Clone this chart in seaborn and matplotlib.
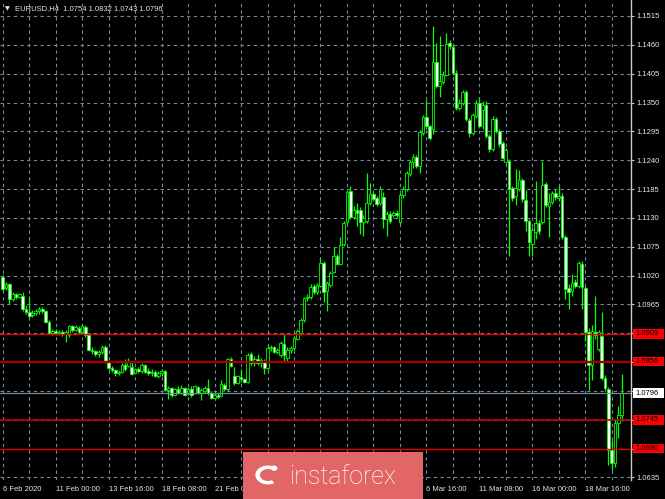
import numpy as np
import pandas as pd
import matplotlib
matplotlib.use("Agg")
import matplotlib.pyplot as plt
import matplotlib.transforms as mtransforms
from matplotlib.patches import Rectangle, Wedge, Circle
import seaborn as sns

# ---------------- data (EURUSD H4) ----------------
opens = [1.1018, 1.0996, 1.1003, 1.0976, 1.0984, 1.0980, 1.0982, 1.0957, 1.0950, 1.0944,
         1.0948, 1.0952, 1.0956, 1.0952, 1.0932, 1.0911, 1.0915, 1.0910, 1.0913, 1.0909,
         1.0906, 1.0923, 1.0917, 1.0920, 1.0912, 1.0922, 1.0906, 1.0879, 1.0876, 1.0871,
         1.0875, 1.0884, 1.0856, 1.0843, 1.0840, 1.0834, 1.0837, 1.0850, 1.0847, 1.0846,
         1.0834, 1.0841, 1.0838, 1.0849, 1.0838, 1.0834, 1.0837, 1.0829, 1.0835, 1.0838,
         1.0801, 1.0806, 1.0792, 1.0803, 1.0796, 1.0805, 1.0794, 1.0804, 1.0796, 1.0807,
         1.0797, 1.0800, 1.0806, 1.0797, 1.0786, 1.0793, 1.0791, 1.0812, 1.0803, 1.0860,
         1.0829, 1.0815, 1.0826, 1.0822, 1.0818, 1.0870, 1.0853, 1.0861, 1.0853, 1.0858,
         1.0843, 1.0881, 1.0883, 1.0874, 1.0868, 1.0890, 1.0862, 1.0878, 1.0881, 1.0900,
         1.0910, 1.0935, 1.0977, 1.0979, 1.1000, 1.0988, 1.1001, 1.1044, 1.0990, 1.1002,
         1.1027, 1.1058, 1.1043, 1.1080, 1.1122, 1.1182, 1.1132, 1.1146, 1.1145, 1.1122,
         1.1125, 1.1159, 1.1175, 1.1167, 1.1158, 1.1170, 1.1128, 1.1137, 1.1135, 1.1140,
         1.1122, 1.1173, 1.1185, 1.1214, 1.1236, 1.1246, 1.1229, 1.1292, 1.1322, 1.1305,
         1.1300, 1.1428, 1.1382, 1.1390, 1.1403, 1.1463, 1.1456, 1.1407, 1.1340, 1.1350,
         1.1370, 1.1317, 1.1292, 1.1325, 1.1350, 1.1336, 1.1346, 1.1286, 1.1262, 1.1318,
         1.1296, 1.1272, 1.1237, 1.1238, 1.1187, 1.1172, 1.1185, 1.1203, 1.1165, 1.1124,
         1.1081, 1.1104, 1.1120, 1.1122, 1.1194, 1.1153, 1.1160, 1.1177, 1.1168, 1.1172,
         1.1094, 1.0996, 1.0991, 1.1008, 1.1001, 1.1043, 1.0996, 1.0912, 1.0850, 1.0912,
         1.0880, 1.0905, 1.0825, 1.0804, 1.0687, 1.0663, 1.0739, 1.0754]
highs = [1.1022, 1.1008, 1.1006, 1.0988, 1.0986, 1.0987, 1.0988, 1.0964, 1.0981, 1.0955,
         1.0956, 1.0960, 1.0961, 1.0955, 1.0935, 1.0918, 1.0919, 1.0917, 1.0916, 1.0917,
         1.0926, 1.0926, 1.0925, 1.0923, 1.0927, 1.0925, 1.0908, 1.0884, 1.0879, 1.0879,
         1.0888, 1.0888, 1.0858, 1.0847, 1.0842, 1.0840, 1.0854, 1.0860, 1.0862, 1.0858,
         1.0844, 1.0845, 1.0854, 1.0851, 1.0843, 1.0841, 1.0840, 1.0838, 1.0842, 1.0840,
         1.0809, 1.0808, 1.0806, 1.0809, 1.0811, 1.0807, 1.0808, 1.0810, 1.0812, 1.0809,
         1.0805, 1.0809, 1.0823, 1.0799, 1.0796, 1.0796, 1.0820, 1.0815, 1.0863, 1.0864,
         1.0846, 1.0831, 1.0842, 1.0825, 1.0872, 1.0875, 1.0866, 1.0870, 1.0863, 1.0860,
         1.0885, 1.0887, 1.0886, 1.0882, 1.0895, 1.0909, 1.0883, 1.0886, 1.0905, 1.0918,
         1.0940, 1.0980, 1.0984, 1.1003, 1.1004, 1.1006, 1.1054, 1.1047, 1.1009, 1.1028,
         1.1075, 1.1062, 1.1094, 1.1124, 1.1184, 1.1190, 1.1152, 1.1158, 1.1150, 1.1135,
         1.1216, 1.1197, 1.1180, 1.1172, 1.1190, 1.1180, 1.1143, 1.1144, 1.1144, 1.1146,
         1.1178, 1.1190, 1.1219, 1.1241, 1.1252, 1.1250, 1.1298, 1.1326, 1.1355, 1.1308,
         1.1496, 1.1463, 1.1476, 1.1410, 1.1483, 1.1470, 1.1460, 1.1412, 1.1356, 1.1374,
         1.1374, 1.1320, 1.1330, 1.1355, 1.1360, 1.1352, 1.1352, 1.1290, 1.1324, 1.1322,
         1.1300, 1.1276, 1.1264, 1.1242, 1.1190, 1.1224, 1.1222, 1.1207, 1.1184, 1.1128,
         1.1112, 1.1200, 1.1126, 1.1238, 1.1198, 1.1178, 1.1182, 1.1185, 1.1191, 1.1178,
         1.1098, 1.1003, 1.1023, 1.1014, 1.1048, 1.1047, 1.1000, 1.0920, 1.0925, 1.0982,
         1.0916, 1.0951, 1.0830, 1.0808, 1.0706, 1.0747, 1.0772, 1.0832]
lows = [1.0990, 1.0993, 1.0966, 1.0972, 1.0976, 1.0977, 1.0953, 1.0946, 1.0940, 1.0941,
        1.0944, 1.0947, 1.0949, 1.0929, 1.0908, 1.0907, 1.0906, 1.0907, 1.0905, 1.0893,
        1.0903, 1.0913, 1.0914, 1.0908, 1.0910, 1.0903, 1.0876, 1.0870, 1.0866, 1.0865,
        1.0870, 1.0853, 1.0840, 1.0836, 1.0829, 1.0831, 1.0834, 1.0838, 1.0845, 1.0830,
        1.0832, 1.0835, 1.0835, 1.0834, 1.0831, 1.0829, 1.0826, 1.0825, 1.0828, 1.0799,
        1.0785, 1.0789, 1.0790, 1.0794, 1.0794, 1.0790, 1.0792, 1.0789, 1.0794, 1.0794,
        1.0782, 1.0797, 1.0792, 1.0784, 1.0783, 1.0787, 1.0790, 1.0800, 1.0800, 1.0845,
        1.0812, 1.0813, 1.0818, 1.0815, 1.0816, 1.0850, 1.0848, 1.0850, 1.0846, 1.0833,
        1.0840, 1.0876, 1.0872, 1.0871, 1.0865, 1.0857, 1.0858, 1.0872, 1.0878, 1.0897,
        1.0907, 1.0932, 1.0972, 1.0976, 1.0985, 1.0984, 1.0998, 1.0969, 1.0953, 1.0998,
        1.1025, 1.1040, 1.1040, 1.1077, 1.1118, 1.1127, 1.1128, 1.1115, 1.1100, 1.1096,
        1.1120, 1.1155, 1.1162, 1.1153, 1.1155, 1.1111, 1.1096, 1.1120, 1.1131, 1.1130,
        1.1118, 1.1168, 1.1181, 1.1210, 1.1226, 1.1225, 1.1216, 1.1288, 1.1300, 1.1278,
        1.1290, 1.1378, 1.1360, 1.1385, 1.1400, 1.1452, 1.1403, 1.1336, 1.1335, 1.1346,
        1.1314, 1.1285, 1.1288, 1.1320, 1.1302, 1.1300, 1.1282, 1.1255, 1.1258, 1.1292,
        1.1265, 1.1242, 1.1234, 1.1057, 1.1162, 1.1155, 1.1181, 1.1160, 1.1105, 1.1058,
        1.1058, 1.1089, 1.1100, 1.1118, 1.1150, 1.1093, 1.1156, 1.1165, 1.1163, 1.1090,
        1.0975, 1.0956, 1.0982, 1.0996, 1.0997, 1.0956, 1.0896, 1.0801, 1.0820, 1.0900,
        1.0876, 1.0820, 1.0800, 1.0658, 1.0650, 1.0655, 1.0710, 1.0743]
closes = [1.0994, 1.1004, 1.0975, 1.0984, 1.0980, 1.0984, 1.0956, 1.0951, 1.0943, 1.0949,
          1.0952, 1.0956, 1.0952, 1.0932, 1.0911, 1.0915, 1.0910, 1.0913, 1.0909, 1.0913,
          1.0923, 1.0917, 1.0921, 1.0912, 1.0923, 1.0906, 1.0879, 1.0876, 1.0871, 1.0875,
          1.0884, 1.0856, 1.0843, 1.0840, 1.0834, 1.0837, 1.0850, 1.0842, 1.0858, 1.0833,
          1.0841, 1.0838, 1.0850, 1.0837, 1.0834, 1.0837, 1.0829, 1.0835, 1.0838, 1.0801,
          1.0806, 1.0792, 1.0803, 1.0796, 1.0806, 1.0793, 1.0804, 1.0793, 1.0809, 1.0797,
          1.0802, 1.0806, 1.0797, 1.0786, 1.0793, 1.0789, 1.0813, 1.0803, 1.0860, 1.0848,
          1.0815, 1.0828, 1.0822, 1.0818, 1.0869, 1.0853, 1.0861, 1.0853, 1.0859, 1.0843,
          1.0882, 1.0884, 1.0874, 1.0879, 1.0892, 1.0868, 1.0879, 1.0882, 1.0901, 1.0914,
          1.0936, 1.0977, 1.0980, 1.0999, 1.0988, 1.1002, 1.1044, 1.0989, 1.1005, 1.1025,
          1.1057, 1.1043, 1.1079, 1.1120, 1.1180, 1.1131, 1.1146, 1.1140, 1.1122, 1.1130,
          1.1158, 1.1175, 1.1166, 1.1157, 1.1186, 1.1127, 1.1138, 1.1125, 1.1140, 1.1135,
          1.1174, 1.1186, 1.1215, 1.1237, 1.1247, 1.1229, 1.1294, 1.1322, 1.1305, 1.1283,
          1.1428, 1.1382, 1.1392, 1.1402, 1.1462, 1.1457, 1.1407, 1.1340, 1.1350, 1.1370,
          1.1318, 1.1292, 1.1326, 1.1350, 1.1306, 1.1345, 1.1286, 1.1261, 1.1319, 1.1296,
          1.1270, 1.1245, 1.1259, 1.1186, 1.1168, 1.1187, 1.1202, 1.1166, 1.1125, 1.1084,
          1.1107, 1.1120, 1.1105, 1.1193, 1.1154, 1.1161, 1.1177, 1.1169, 1.1172, 1.1094,
          1.0995, 1.0989, 1.1006, 1.1001, 1.1044, 1.0998, 1.0913, 1.0850, 1.0914, 1.0907,
          1.0912, 1.0824, 1.0805, 1.0688, 1.0662, 1.0739, 1.0755, 1.0796]

# time-axis labels every 16 bars; the three behind the watermark are not visible
time_labels = ["6 Feb 2020", "11 Feb 00:00", "13 Feb 16:00", "18 Feb 08:00",
               "21 Feb 00:00", "", "", "",
               "6 Mar 16:00", "11 Mar 08:00", "16 Mar 00:00", "18 Mar 16:00"]
price_ticks = [1.0635, 1.0690, 1.0745, 1.0800, 1.0855, 1.0910, 1.0965, 1.1020,
               1.1075, 1.1130, 1.1185, 1.1240, 1.1295, 1.1350, 1.1405, 1.1460, 1.1515]
level_prices = [1.0909, 1.0856, 1.0745, 1.0690]
level_colors = ["#e00000", "#a00000", "#c00000", "#e00000"]
level_widths = [1.0, 1.7, 1.2, 1.0]
bid_price = 1.0796
title_symbol = "EURUSD,H4"
title_ohlc = ["1.0754", "1.0832", "1.0743", "1.0796"]

# ---------------- style ----------------
sns.set_theme(style="dark", rc={"axes.facecolor": "black", "figure.facecolor": "black",
                                "axes.edgecolor": "#c8c8c8"})
plt.rcParams["font.family"] = ["Liberation Sans", "DejaVu Sans"]

df = pd.DataFrame({"open": opens, "high": highs, "low": lows, "close": closes})
df["idx"] = np.arange(len(df))
df["bull"] = df["close"] >= df["open"]
df["body_lo"] = df[["open", "close"]].min(axis=1)
df["body_h"] = (df["close"] - df["open"]).abs().clip(lower=0.00005)

W, H = 665, 499
fig = plt.figure(figsize=(W / 100, H / 100), dpi=100)
ax_bottom_px = 480
ax = fig.add_axes([0, (H - ax_bottom_px) / H, 631 / W, ax_bottom_px / H])
ax.set_facecolor("black")

scale = 5244.0  # pixels per price unit
x0, dx = 2.7, 3.31
ax.set_ylim(1.1515 - (ax_bottom_px - 16) / scale, 1.1515 + 16 / scale)
ax.set_xlim(-x0 / dx, (631 - x0) / dx)

# grid + ticks
xt = np.arange(0, 190, 8)
ax.set_xticks(xt)
ax.set_xticklabels([time_labels[i // 16] if i % 16 == 0 and i // 16 < len(time_labels) else "" for i in xt])
for lbl in ax.get_xticklabels():
    lbl.set_ha("left")
ax.set_yticks(price_ticks)
ax.set_yticklabels([f"{v:.4f}" for v in price_ticks])
ax.yaxis.tick_right()
ax.grid(True, color="#778899", linestyle=(0, (3, 3)), linewidth=0.8)
ax.set_axisbelow(True)
ax.tick_params(axis="both", which="both", direction="out", length=2.5, width=0.8,
               color="#c8c8c8", labelcolor="#e8e8e8", labelsize=5.5, pad=1.5)
for s in ["top", "left", "bottom"]:
    ax.spines[s].set_visible(False)
ax.spines["right"].set_color("#c8c8c8")
ax.spines["right"].set_linewidth(1.0)

# candles
ax.vlines(df["idx"], df["low"], df["high"], color="#00ff00", linewidth=0.9, zorder=3)
ax.bar(df["idx"], df["body_h"], bottom=df["body_lo"], width=0.8,
       color=np.where(df["bull"], "black", "white"), edgecolor="#00ff00",
       linewidth=0.6, zorder=4)

# horizontal levels
for v, c, lw in zip(level_prices, level_colors, level_widths):
    ax.axhline(v, color=c, linewidth=lw, zorder=5)
ax.axhline(bid_price, color="#778899", linewidth=0.9, zorder=5)

# right-side price tags
trans = mtransforms.blended_transform_factory(ax.transAxes, ax.transData)
tag_h = 9.5 / scale
for v, fc in [(p, "#ff0000") for p in level_prices] + [(bid_price, "#ffffff")]:
    ax.add_patch(Rectangle((1 + 1.5 / 631, v - tag_h / 2), 32 / 631, tag_h, transform=trans,
                           facecolor=fc, edgecolor="none", clip_on=False, zorder=10))
    ax.text(1 + 4.5 / 631, v, f"{v:.4f}", transform=trans, ha="left", va="center",
            fontsize=5.5, color="black", clip_on=False, zorder=11)

# title
fig.text(5 / W, 1 - 9 / H, "\u25BC", fontsize=4.5, color="#e6e6e6", va="center", ha="left",
         family=["DejaVu Sans"])
fig.text(15 / W, 1 - 8.5 / H, title_symbol + "  " + " ".join(title_ohlc), fontsize=5.5,
         color="#e6e6e6", va="center", ha="left")

# watermark
fig.add_artist(Rectangle((243 / W, 0), 180 / W, 47 / H, transform=fig.transFigure,
                         facecolor="#e26666", edgecolor="none", zorder=20))
fig.add_artist(Wedge((268 / W, 24 / H), 0.019, 40, 300, width=0.007,
                     transform=fig.transFigure, facecolor="white", edgecolor="none", zorder=21))
fig.add_artist(Circle((274 / W, 31 / H), 0.005, transform=fig.transFigure,
                      facecolor="white", edgecolor="none", zorder=21))
fig.text(289 / W, 22 / H, "instaforex", fontsize=18, color="white", ha="left",
         va="center", family=["Roboto", "DejaVu Sans"], fontweight="light", zorder=22)

fig.savefig("out.png", dpi=100, facecolor="black")
